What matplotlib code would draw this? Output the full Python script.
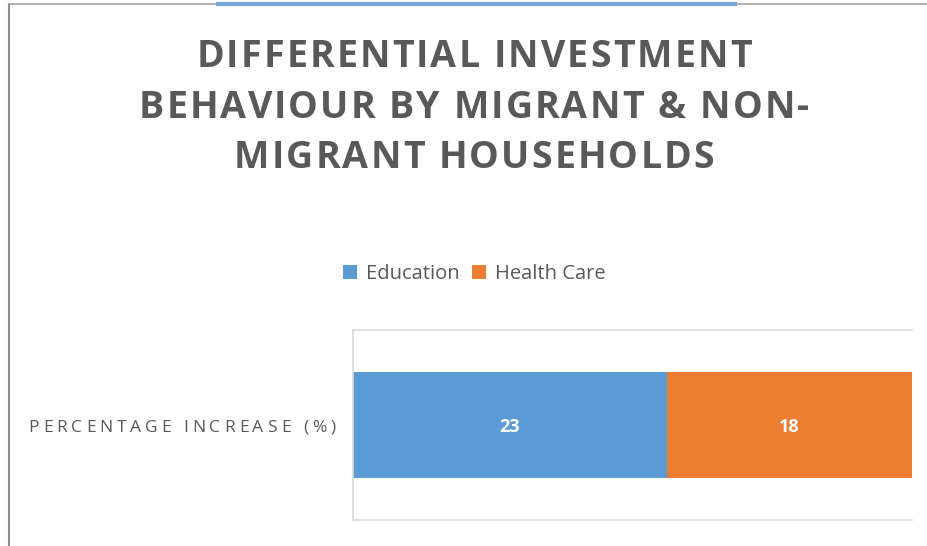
import matplotlib.pyplot as plt
from matplotlib.transforms import IdentityTransform
from matplotlib.lines import Line2D

plt.rcParams['font.family'] = ['Open Sans', 'DejaVu Sans']

title_lines = ['DIFFERENTIAL INVESTMENT', 'BEHAVIOUR BY MIGRANT & NON-', 'MIGRANT HOUSEHOLDS']
category = 'PERCENTAGE INCREASE (%)'
series = ['Education', 'Health Care']
values = [23, 18]
colors = ['#5b9bd5', '#ed7d31']
grey = '#595959'

W, H = 928, 546
fig = plt.figure(figsize=(W / 100, H / 100), dpi=100)
renderer = fig.canvas.get_renderer()


def text_width(s, **kw):
    t = fig.text(0, 0, s + '|', transform=IdentityTransform(), **kw)
    w = t.get_window_extent(renderer).width
    t.remove()
    t = fig.text(0, 0, '|', transform=IdentityTransform(), **kw)
    w -= t.get_window_extent(renderer).width
    t.remove()
    return w


def spaced_text(x, y, s, gap, ha='center', **kw):
    # draws s one char at a time with extra tracking; x, baseline y in image pixels (y down)
    offsets = [text_width(s[:i], **kw) + i * gap for i in range(len(s))]
    total = text_width(s, **kw) + (len(s) - 1) * gap
    x0 = x - total / 2 if ha == 'center' else (x - total if ha == 'right' else x)
    for ch, off in zip(s, offsets):
        if ch != ' ':
            fig.text(x0 + off, H - y, ch, transform=IdentityTransform(),
                     ha='left', va='baseline', **kw)


# outer frame
fig.add_artist(Line2D([9 / W, 9 / W], [0, 1 - 4 / H], color='#8c8c8c', lw=1.5))
fig.add_artist(Line2D([9 / W, 1], [1 - 4 / H, 1 - 4 / H], color='#a6a6a6', lw=1.2))
fig.add_artist(Line2D([218 / W, 735 / W], [1 - 4 / H, 1 - 4 / H], color='#7aa7d8', lw=3))

# title
for line, yb in zip(title_lines, [67, 117.5, 167.5]):
    spaced_text(474, yb, line, 2.1, fontsize=27, fontweight='bold', color=grey)

# category label
spaced_text(182, 432, category, 3.9, fontsize=12.5, color=grey)

# bars
ax = fig.add_axes([353 / W, 1 - 520 / H, (912 - 353) / W, (520 - 330) / H])
left = 0
for name, v, c in zip(series, values, colors):
    ax.barh(0, v, left=left, height=0.56, color=c, label=name)
    ax.text(left + v / 2, -0.01, str(v), ha='center', va='center', color='white',
            fontsize=13, fontweight='bold')
    left += v
ax.set_xlim(0, sum(values))
ax.set_ylim(-0.5, 0.5)
ax.set_xticks([])
ax.set_yticks([])
for s in ['left', 'top', 'bottom']:
    ax.spines[s].set_color('#d9d9d9')
    ax.spines[s].set_linewidth(1.2)
ax.spines['right'].set_visible(False)

handles, labels = ax.get_legend_handles_labels()
fig.legend(handles, labels, loc='center', bbox_to_anchor=(474 / W, 1 - 274 / H),
           ncol=2, frameon=False, fontsize=14.5, labelcolor=grey, handlelength=0.7,
           handleheight=0.7, handletextpad=0.45, columnspacing=0.6)

fig.savefig('out.png', dpi=100)
